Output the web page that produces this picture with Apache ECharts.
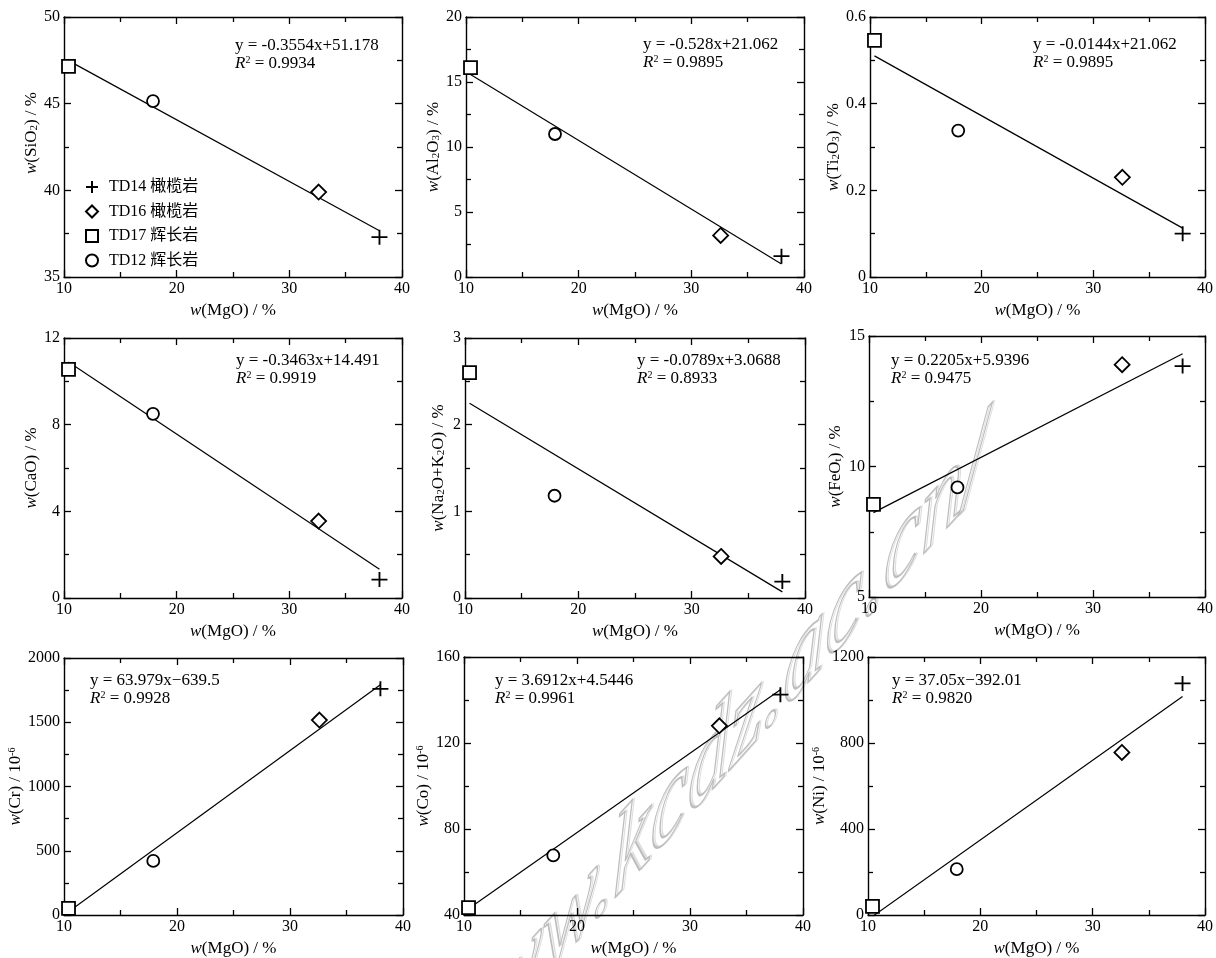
<!DOCTYPE html>
<html>
<head>
<meta charset="utf-8">
<script src="https://cdn.jsdelivr.net/npm/echarts@6/dist/echarts.min.js"></script>
<style>
  html, body { margin: 0; padding: 0; background: #fff; }
  #chart { width: 1216px; height: 958px; }
</style>
</head>
<body>
<div id="chart"></div>
<script>
// ---- samples (legend order) ----
const sampleNames = ['TD14 橄榄岩', 'TD16 橄榄岩', 'TD17 辉长岩', 'TD12 辉长岩'];
// w(MgO) / % of each sample, x of every panel
const mgo = [38.0, 32.6, 10.4, 17.9];

// ---- oxide / trace element contents, same sample order ----
const sio2  = [37.3, 39.9, 47.15, 45.15];
const al2o3 = [1.6, 3.2, 16.1, 11.0];
const ti2o3 = [0.10, 0.23, 0.546, 0.338];
const cao   = [0.85, 3.55, 10.55, 8.5];
const alk   = [0.19, 0.48, 2.6, 1.18];
const feot  = [13.85, 13.9, 8.55, 9.2];
const cr    = [1760, 1517, 52, 421];
const co    = [142.5, 128, 43.4, 67.7];
const ni    = [1077, 756, 40, 213];
const panelValues = [sio2, al2o3, ti2o3, cao, alk, feot, cr, co, ni];

// ---- y axes ----
const yMin  = [35, 0, 0,   0,  0, 5,  0,    40,  0];
const yMax  = [50, 20, 0.6, 12, 3, 15, 2000, 160, 1200];
const yStep = [5,  5, 0.2, 4,  1, 5,  500,  40,  400];
const yNames = [
  '{i|w}(SiO{s|2}) / %',
  '{i|w}(Al{s|2}O{s|3}) / %',
  '{i|w}(Ti{s|2}O{s|3}) / %',
  '{i|w}(CaO) / %',
  '{i|w}(Na{s|2}O+K{s|2}O) / %',
  '{i|w}(FeO{s|t}) / %',
  '{i|w}(Cr) / 10{p|-6}',
  '{i|w}(Co) / 10{p|-6}',
  '{i|w}(Ni) / 10{p|-6}'
];

// ---- x axis ----
const xMin = 10, xMax = 40, xStep = 10;
const xName = '{i|w}(MgO) / %';

// ---- regression lines y = a·x + b over the MgO range ----
const fitSlope     = [-0.3554, -0.528, -0.0144, -0.3463, -0.0789, 0.2205, 63.979, 3.6912, 37.05];
const fitIntercept = [51.178, 21.062, 0.66, 14.491, 3.0688, 5.9396, -639.5, 4.5446, -392.01];
const eqText = [
  'y = -0.3554x+51.178', 'y = -0.528x+21.062', 'y = -0.0144x+21.062',
  'y = -0.3463x+14.491', 'y = -0.0789x+3.0688', 'y = 0.2205x+5.9396',
  'y = 63.979x\u2212639.5', 'y = 3.6912x+4.5446', 'y = 37.05x\u2212392.01'
];
const r2Text = ['0.9934', '0.9895', '0.9895', '0.9919', '0.8933', '0.9475', '0.9928', '0.9961', '0.9820'];

// ---- journal site mark ----
const siteMark = 'www.kcdz.ac.cn/';

// ---- layout ----
const SERIF = '"Liberation Serif", "Times New Roman", serif';
const MIXED = '"Liberation Serif", "Noto Sans CJK SC", serif';
const grids = [
  { left: 64,  top: 17,  width: 338, height: 260 },
  { left: 466, top: 17,  width: 338, height: 260 },
  { left: 870, top: 17,  width: 337, height: 260 },
  { left: 64,  top: 338, width: 338, height: 260 },
  { left: 465, top: 338, width: 340, height: 260 },
  { left: 869, top: 336, width: 338, height: 261 },
  { left: 64,  top: 658, width: 339, height: 259 },
  { left: 464, top: 657, width: 339, height: 260 },
  { left: 868, top: 657, width: 339, height: 260 }
];
const yNameGap = [22, 19, 24, 22, 18, 25, 35, 18, 24];
// extra space before the y name (pushes it up along the axis)
const yNameLead = [28, 0, 0, 0, 0, 0, 0, 0, 0];
const eqPos = [[235, 37], [643, 36], [1033, 36], [236, 352], [637, 352], [891, 352], [90, 672], [495, 672], [892, 672]];

const symbols = ['path://M0,8L16,8M8,0L8,16', 'diamond', 'rect', 'circle'];
const symbolSizes = [[16, 15], [15, 15], [13, 13], [12, 12]];

const black = '#000';
const NAME_SIZE = 17;
const richName = {
  i: { fontStyle: 'italic', fontFamily: SERIF, fontSize: NAME_SIZE, color: black },
  s: { fontFamily: SERIF, fontSize: 11, color: black, verticalAlign: 'bottom', lineHeight: 6 },
  p: { fontFamily: SERIF, fontSize: 10, color: black, verticalAlign: 'top', lineHeight: 6 }
};

function axisCommon(showLabel) {
  return {
    axisLine: { show: true, onZero: false, lineStyle: { color: black, width: 1.4 } },
    axisTick: { show: true, inside: true, length: 7, lineStyle: { color: black, width: 1.3 } },
    minorTick: { show: true, splitNumber: 2, length: 5, lineStyle: { color: black, width: 1.3 } },
    splitLine: { show: false },
    axisLabel: {
      show: showLabel, margin: 4, color: black,
      fontFamily: SERIF, fontSize: 16,
      formatter: v => String(v)
    }
  };
}

const xAxes = [], yAxes = [], series = [], graphics = [];

grids.forEach((g, p) => {
  // bottom / left axes carry labels, top / right mirror the ticks
  xAxes.push(Object.assign(axisCommon(true), {
    type: 'value', gridIndex: p, position: 'bottom', min: xMin, max: xMax, interval: xStep,
    name: xName, nameLocation: 'middle', nameGap: 25,
    nameTextStyle: { fontFamily: SERIF, fontSize: NAME_SIZE, color: black, rich: richName }
  }));
  yAxes.push(Object.assign(axisCommon(true), {
    type: 'value', gridIndex: p, position: 'left', min: yMin[p], max: yMax[p], interval: yStep[p],
    name: yNames[p], nameLocation: 'middle', nameGap: yNameGap[p], nameRotate: 90,
    nameTextStyle: {
      fontFamily: SERIF, fontSize: NAME_SIZE, color: black, rich: richName,
      padding: [0, 0, 0, yNameLead[p]]
    }
  }));
});
grids.forEach((g, p) => {
  xAxes.push(Object.assign(axisCommon(false), {
    type: 'value', gridIndex: p, position: 'top', min: xMin, max: xMax, interval: xStep
  }));
  yAxes.push(Object.assign(axisCommon(false), {
    type: 'value', gridIndex: p, position: 'right', min: yMin[p], max: yMax[p], interval: yStep[p]
  }));
});

const xLo = Math.min.apply(null, mgo);
const xHi = Math.max.apply(null, mgo);

grids.forEach((g, p) => {
  const a = fitSlope[p], b = fitIntercept[p];
  series.push({
    type: 'line', name: 'fit' + p, xAxisIndex: p, yAxisIndex: p,
    data: [[xLo, a * xLo + b], [xHi, a * xHi + b]],
    symbol: 'none', silent: true, clip: true, z: 2,
    lineStyle: { color: black, width: 1.2 }
  });
  sampleNames.forEach((name, s) => {
    series.push({
      type: 'scatter', name: name, xAxisIndex: p, yAxisIndex: p,
      data: [[mgo[s], panelValues[p][s]]],
      symbol: symbols[s], symbolSize: symbolSizes[s], z: 3, silent: true,
      itemStyle: {
        color: s === 0 ? 'transparent' : '#fff',
        borderColor: black, borderWidth: 1.8, opacity: 1
      }
    });
  });
  graphics.push({
    type: 'text', left: eqPos[p][0], top: eqPos[p][1], z: 10,
    style: {
      text: eqText[p] + '\n{i|R}{p|2} = ' + r2Text[p],
      fontFamily: SERIF, fontSize: NAME_SIZE, fill: black, lineHeight: 18,
      rich: {
        i: { fontStyle: 'italic', fontFamily: SERIF, fontSize: NAME_SIZE, fill: black, lineHeight: 18 },
        p: { fontFamily: SERIF, fontSize: 10, fill: black, verticalAlign: 'top', lineHeight: 8 }
      }
    }
  });
});

// faint outlined site mark running diagonally across the lower panels
function siteMarkText(dx, dy, color, width) {
  return {
    type: 'text', x: 430 + dx, y: 1131 + dy, skewY: 0.84, scaleY: 1.35, z: -5, silent: true,
    style: {
      text: siteMark, fontFamily: SERIF, fontStyle: 'italic', fontSize: 84,
      fill: 'none', stroke: color, lineWidth: width,
      align: 'left', verticalAlign: 'bottom'
    }
  };
}
graphics.push(siteMarkText(2, -1, '#dedede', 1.2));
graphics.push(siteMarkText(0, 0, '#bdbdbd', 1.4));

const chart = echarts.init(document.getElementById('chart'), null, { renderer: 'canvas' });
chart.setOption({
  backgroundColor: '#fff',
  animation: false,
  grid: grids.map(g => Object.assign({ containLabel: false, show: false }, g)),
  xAxis: xAxes,
  yAxis: yAxes,
  legend: {
    data: sampleNames, orient: 'vertical', left: 80, top: 174,
    itemWidth: 12, itemHeight: 12, itemGap: 8.5, selectedMode: false,
    textStyle: { fontFamily: MIXED, fontSize: 16, color: black, padding: [0, 0, 0, 6] }
  },
  series: series,
  graphic: graphics
});
</script>
</body>
</html>
